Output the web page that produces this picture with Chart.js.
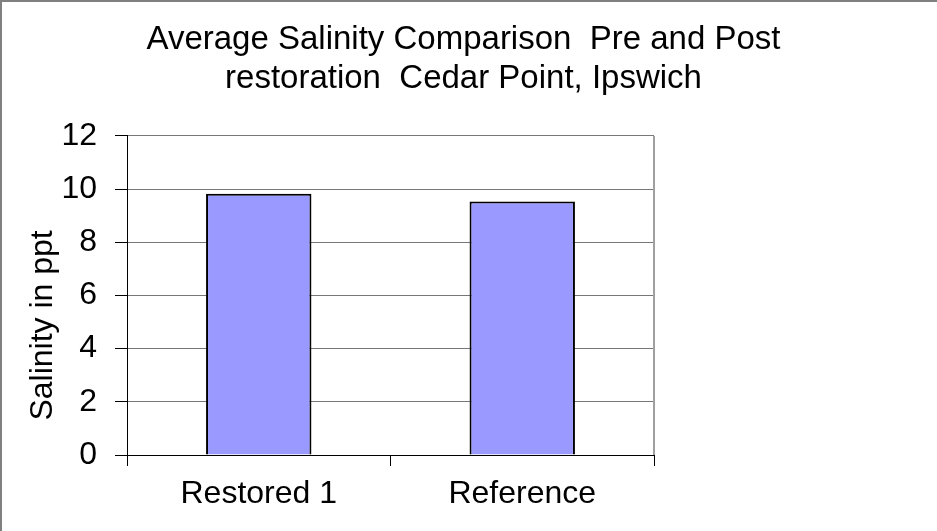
<!DOCTYPE html>
<html>
<head>
<meta charset="utf-8">
<script src="https://cdn.jsdelivr.net/npm/chart.js@4.4.0/dist/chart.umd.min.js"></script>
<style>
html,body{margin:0;padding:0;background:#fff;}
#wrap{position:relative;width:937px;height:531px;}
</style>
</head>
<body>
<div id="wrap"><canvas id="c" width="937" height="531"></canvas></div>
<script>
const categories = ["Restored 1", "Reference"];
const salinity = [9.82, 9.53];
const yTicks = [0, 2, 4, 6, 8, 10, 12];
const titleLines = ["Average Salinity Comparison  Pre and Post", "restoration  Cedar Point, Ipswich"];
const yTitle = "Salinity in ppt";

const FONT = "'Liberation Sans', Arial, sans-serif";

const framePlugin = {
  id: 'frame',
  beforeDraw(chart) {
    const ctx = chart.ctx;
    ctx.save();
    ctx.fillStyle = '#ffffff';
    ctx.fillRect(0, 0, chart.width, chart.height);
    ctx.strokeStyle = '#808080';
    ctx.lineWidth = 2;
    ctx.beginPath();
    ctx.moveTo(1, chart.height);
    ctx.lineTo(1, 1);
    ctx.lineTo(chart.width, 1);
    ctx.stroke();
    ctx.restore();
  },
  afterDraw(chart) {
    const ctx = chart.ctx;
    const a = chart.chartArea;
    ctx.save();
    ctx.strokeStyle = '#a0a0a0';
    ctx.lineWidth = 2;
    ctx.beginPath();
    ctx.moveTo(a.right, a.top);
    ctx.lineTo(a.right, a.bottom);
    ctx.stroke();
    // y-axis title
    ctx.fillStyle = '#000';
    ctx.font = "32px " + FONT;
    ctx.textAlign = 'center';
    ctx.textBaseline = 'alphabetic';
    ctx.translate(52, (a.top + a.bottom) / 2 + 30);
    ctx.rotate(-Math.PI / 2);
    ctx.fillText(yTitle, 0, 0);
    ctx.restore();
  }
};

new Chart(document.getElementById('c'), {
  type: 'bar',
  data: {
    labels: categories,
    datasets: [{
      data: salinity,
      backgroundColor: '#9999ff',
      borderColor: '#000000',
      borderWidth: 2,
      categoryPercentage: 1.0,
      barPercentage: 0.4,
      yAxisID: 'y'
    }]
  },
  options: {
    responsive: false,
    animation: false,
    devicePixelRatio: 1,
    layout: { padding: { left: 0, right: 10, top: 0, bottom: 0 } },
    plugins: {
      legend: { display: false },
      tooltip: { enabled: false },
      title: {
        display: true,
        text: titleLines,
        color: '#000',
        font: { family: FONT, size: 33, weight: 'normal', lineHeight: 1.18 },
        padding: { top: 20, bottom: 38 }
      }
    },
    scales: {
      x: {
        grid: {
          display: true,
          drawOnChartArea: false,
          drawTicks: true,
          tickLength: 11,
          tickColor: '#000',
          offset: true
        },
        border: { display: true, color: '#000', width: 1 },
        ticks: { color: '#000', font: { family: FONT, size: 32 }, padding: 9 },
        afterFit(s) { s.height = 76; }
      },
      y: {
        min: 0,
        max: 12,
        afterBuildTicks(s) { s.ticks = yTicks.map(v => ({ value: v })); },
        grid: {
          color: '#777777',
          lineWidth: 1,
          drawTicks: true,
          tickLength: 12,
          tickColor: '#000'
        },
        border: { display: true, color: '#000', width: 1 },
        ticks: { color: '#000', font: { family: FONT, size: 32 }, padding: 18 },
        afterFit(s) { s.width = 127; }
      },
      y2: {
        position: 'right',
        display: true,
        min: 0,
        max: 12,
        grid: { display: false, drawTicks: false },
        border: { display: false },
        ticks: { display: false },
        afterFit(s) { s.width = 273; }
      }
    }
  },
  plugins: [framePlugin]
});
</script>
</body>
</html>
